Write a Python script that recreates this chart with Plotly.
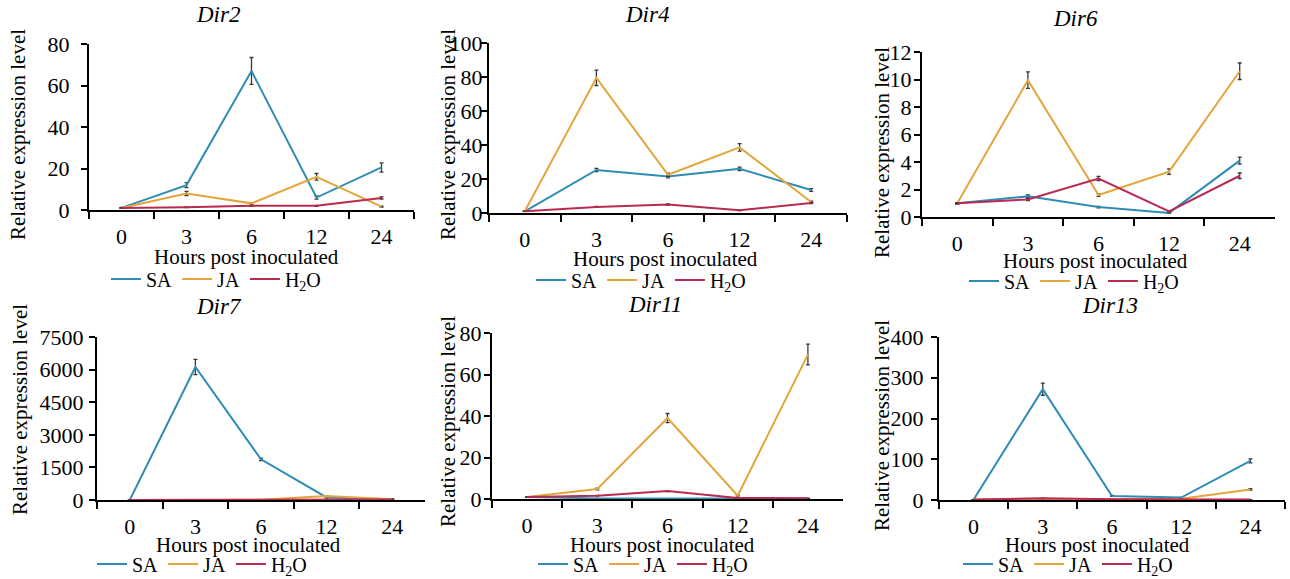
import plotly.graph_objects as go

# ---------------- data ----------------
hours = ["0", "3", "6", "12", "24"]
genes = ["Dir2", "Dir4", "Dir6", "Dir7", "Dir11", "Dir13"]
series_names = ["SA", "JA", "H<sub>2</sub>O"]

dir2_sa = [1, 12, 67, 6, 20.5]
dir2_sa_err = [0.2, 1.2, 6.5, 0.8, 2.2]
dir2_ja = [1, 8, 3.2, 16, 1.6]
dir2_ja_err = [0.1, 1.0, 0.3, 1.6, 0.2]
dir2_h2o = [1, 1.3, 2, 2, 5.8]
dir2_h2o_err = [0.1, 0.2, 0.2, 0.2, 0.5]

dir4_sa = [1, 25.3, 21.5, 26, 13.5]
dir4_sa_err = [0.1, 1.0, 0.8, 1.0, 0.8]
dir4_ja = [1, 79.5, 22.5, 38.6, 6.5]
dir4_ja_err = [0.1, 4.5, 1.0, 2.2, 0.5]
dir4_h2o = [1, 3.6, 5, 1.6, 5.9]
dir4_h2o_err = [0.1, 0.3, 0.3, 0.2, 0.4]

dir6_sa = [1, 1.5, 0.72, 0.3, 4.1]
dir6_sa_err = [0.05, 0.1, 0.05, 0.03, 0.25]
dir6_ja = [1, 9.95, 1.6, 3.3, 10.6]
dir6_ja_err = [0.05, 0.6, 0.1, 0.2, 0.6]
dir6_h2o = [1, 1.28, 2.8, 0.4, 3.0]
dir6_h2o_err = [0.05, 0.08, 0.15, 0.04, 0.2]

dir7_sa = [1, 6120, 1870, 120, 40]
dir7_sa_err = [0.1, 350, 60, 10, 5]
dir7_ja = [1, 10, 12, 180, 40]
dir7_ja_err = [0.1, 1, 1, 15, 4]
dir7_h2o = [1, 8, 6, 40, 20]
dir7_h2o_err = [0.1, 1, 1, 4, 2]

dir11_sa = [1, 0.3, 0.2, 0.3, 0.2]
dir11_sa_err = [0.05, 0.03, 0.02, 0.03, 0.02]
dir11_ja = [1, 4.8, 39, 1.6, 69.6]
dir11_ja_err = [0.05, 0.4, 2.2, 0.2, 5.0]
dir11_h2o = [1, 1.6, 3.8, 0.5, 0.4]
dir11_h2o_err = [0.05, 0.1, 0.2, 0.05, 0.04]

dir13_sa = [1, 272, 10, 6, 96]
dir13_sa_err = [0.1, 15, 1, 0.5, 5]
dir13_ja = [1, 2, 2, 3, 26]
dir13_ja_err = [0.1, 0.2, 0.2, 0.3, 2]
dir13_h2o = [1, 4, 2, 2, 1]
dir13_h2o_err = [0.1, 0.3, 0.2, 0.2, 0.1]

y_max = [80, 100, 12, 7500, 80, 400]
y_step = [20, 20, 2, 1500, 20, 100]

# ---------------- styling / layout ----------------
W, H = 1290, 579
FONT = "Liberation Serif"
colors = ["#2f8cb5", "#e2a63c", "#b92a50"]

# plot boxes in pixels: left, right, top, bottom
boxes = [(89, 414, 44, 210), (489, 847, 43, 213), (922, 1275, 52, 217),
         (97, 425, 337, 500), (492, 843, 333, 499), (939, 1285, 337, 500)]
title_pos = [(218, 15), (647, 15), (1075, 18), (219, 306), (655, 304), (1110, 305)]
ytitle_pos = [(18, 135), (448, 135), (882, 152), (20, 410), (448, 422), (882, 425)]
xtitle_pos = [(246, 257), (665, 259), (1095, 261), (248, 545), (662, 545), (1097, 545)]
legend_pos = [(216, 279), (641, 280), (1074, 281), (202, 564), (643, 564), (1068, 564)]
ylab_standoff = [7, -6, -2, 1, -2, 3]

data = [
    (dir2_sa, dir2_sa_err, dir2_ja, dir2_ja_err, dir2_h2o, dir2_h2o_err),
    (dir4_sa, dir4_sa_err, dir4_ja, dir4_ja_err, dir4_h2o, dir4_h2o_err),
    (dir6_sa, dir6_sa_err, dir6_ja, dir6_ja_err, dir6_h2o, dir6_h2o_err),
    (dir7_sa, dir7_sa_err, dir7_ja, dir7_ja_err, dir7_h2o, dir7_h2o_err),
    (dir11_sa, dir11_sa_err, dir11_ja, dir11_ja_err, dir11_h2o, dir11_h2o_err),
    (dir13_sa, dir13_sa_err, dir13_ja, dir13_ja_err, dir13_h2o, dir13_h2o_err),
]


def px(x):
    return x / W


def py(y):
    return 1 - y / H


fig = go.Figure()
layout = dict(
    width=W, height=H,
    margin=dict(l=0, r=0, t=0, b=0, pad=0, autoexpand=False),
    paper_bgcolor="white", plot_bgcolor="white",
    font=dict(family=FONT, color="black", size=20),
    annotations=[],
)

for i, gene in enumerate(genes):
    k = "" if i == 0 else str(i + 1)
    xa, ya = "x" + k, "y" + k
    leg = "legend" + k
    vals = data[i]
    for s in range(3):
        fig.add_trace(go.Scatter(
            x=hours, y=vals[2 * s], name=series_names[s],
            mode="lines", line=dict(color=colors[s], width=2),
            error_y=dict(type="data", array=vals[2 * s + 1], visible=True,
                         color="#3a3a3a", thickness=1.3, width=2),
            xaxis=xa, yaxis=ya, legend=leg, showlegend=True,
        ))
    l, r, t, b = boxes[i]
    layout["xaxis" + k] = dict(
        domain=[px(l), px(r)], anchor=ya, type="category",
        categoryorder="array", categoryarray=hours,
        range=[-0.5, 4.5], tickson="boundaries",
        ticks="outside", ticklen=7, tickwidth=2, tickcolor="black",
        showline=True, linecolor="black", linewidth=2,
        showgrid=False, zeroline=False, ticklabelstandoff=6,
        tickfont=dict(family=FONT, size=22, color="black"),
    )
    layout["yaxis" + k] = dict(
        domain=[py(b), py(t)], anchor=xa,
        range=[0, y_max[i]], dtick=y_step[i], tick0=0,
        ticks="outside", ticklen=6, tickwidth=2, tickcolor="black",
        showline=True, linecolor="black", linewidth=2,
        showgrid=False, zeroline=False, ticklabelstandoff=ylab_standoff[i],
        tickfont=dict(family=FONT, size=22, color="black"),
    )
    lx, ly = legend_pos[i]
    layout[leg] = dict(
        orientation="h", x=px(lx), y=py(ly), xanchor="center", yanchor="middle",
        bgcolor="rgba(0,0,0,0)", font=dict(family=FONT, size=20, color="black"),
        itemwidth=30, tracegroupgap=0,
    )
    tx, ty = title_pos[i]
    layout["annotations"].append(dict(
        text="<i>" + gene + "</i>", x=px(tx), y=py(ty), xref="paper", yref="paper",
        showarrow=False, xanchor="center", yanchor="middle",
        font=dict(family=FONT, size=23, color="black"),
    ))
    yx, yy = ytitle_pos[i]
    layout["annotations"].append(dict(
        text="Relative expression level", x=px(yx), y=py(yy), xref="paper", yref="paper",
        showarrow=False, xanchor="center", yanchor="middle", textangle=-90,
        font=dict(family=FONT, size=21, color="black"),
    ))
    hx, hy = xtitle_pos[i]
    layout["annotations"].append(dict(
        text="Hours post inoculated", x=px(hx), y=py(hy), xref="paper", yref="paper",
        showarrow=False, xanchor="center", yanchor="middle",
        font=dict(family=FONT, size=21, color="black"),
    ))

fig.update_layout(**layout)
fig.write_html("out.html", config={"displayModeBar": False},
               post_script="document.body.style.margin='0';")
